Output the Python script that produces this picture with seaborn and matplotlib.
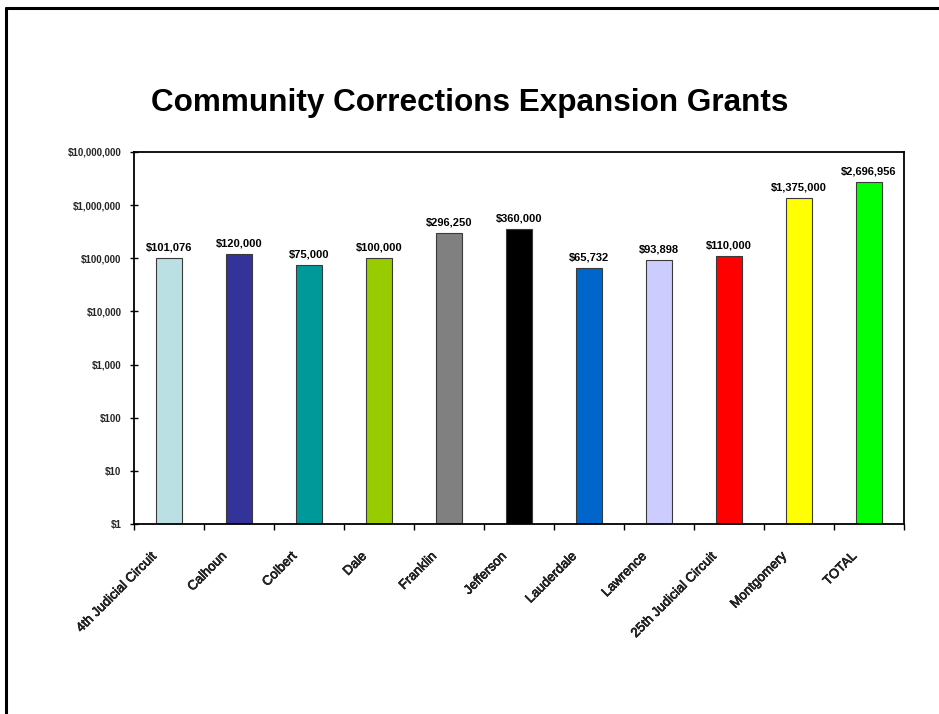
import matplotlib
matplotlib.use("Agg")
import matplotlib.pyplot as plt
import matplotlib.patheffects as pe
from matplotlib.lines import Line2D
from matplotlib.transforms import ScaledTranslation
import seaborn as sns

# Grant amounts by program
categories = ["4th Judicial Circuit", "Calhoun", "Colbert", "Dale", "Franklin",
              "Jefferson", "Lauderdale", "Lawrence", "25th Judicial Circuit",
              "Montgomery", "TOTAL"]
grants = [101076, 120000, 75000, 100000, 296250, 360000, 65732, 93898,
          110000, 1375000, 2696956]
bar_colors = ["#BBE0E3", "#333399", "#009999", "#99CC00", "#808080", "#000000",
              "#0066CC", "#CCCCFF", "#FF0000", "#FFFF00", "#00FF00"]
ytick_values = [1, 10, 100, 1000, 10000, 100000, 1000000, 10000000]
ytick_labels = ["$1", "$10", "$100", "$1,000", "$10,000", "$100,000",
                "$1,000,000", "$10,000,000"]
title = "Community Corrections Expansion Grants"

sns.set_theme(style="white")
plt.rcParams["font.family"] = ["Liberation Sans", "DejaVu Sans"]

fig = plt.figure(figsize=(9.39, 7.14), dpi=100)
ax = fig.add_axes([134 / 939, 1 - 524 / 714, (904 - 134) / 939, (524 - 152) / 714])
ax.set_yscale("log")

sns.barplot(x=categories, y=grants, hue=categories, palette=bar_colors,
            legend=False, width=0.37, edgecolor="#3a3a3a", linewidth=0.8,
            saturation=1, ax=ax)

ax.set_xlim(-0.5, len(categories) - 0.5)
ax.set_ylim(1, 1e7)

# value labels above each bar
for i, v in enumerate(grants):
    ax.annotate(f"${v:,}", xy=(i, v), xytext=(0, 4), textcoords="offset points",
                ha="center", va="bottom", fontsize=8, fontweight="bold",
                color="black")

# y axis: decade ticks with dollar labels
ax.set_yticks(ytick_values)
ax.set_yticklabels(ytick_labels)
ax.yaxis.set_minor_locator(matplotlib.ticker.NullLocator())
ax.tick_params(axis="y", which="major", direction="inout", length=6, width=1,
               pad=6, labelsize=7, color="black", left=True)
for lab in ax.get_yticklabels():
    lab.set_fontweight("bold")

# x axis: tick marks between categories, labels at category centres
ax.set_xticks(range(len(categories)))
ax.set_xticklabels(categories)
ax.set_xticks([i - 0.5 for i in range(len(categories) + 1)], minor=True)
ax.tick_params(axis="x", which="major", length=0, pad=22, labelsize=9.5)
ax.tick_params(axis="x", which="minor", direction="out", length=4, width=1,
               color="black", bottom=True)
offset = ScaledTranslation(-10 / 72, 0, fig.dpi_scale_trans)
for lab in ax.get_xticklabels():
    lab.set_rotation(45)
    lab.set_ha("right")
    lab.set_va("center")
    lab.set_rotation_mode("anchor")
    lab.set_transform(lab.get_transform() + offset)
    lab.set_path_effects([pe.withStroke(linewidth=0.45, foreground="black")])

ax.set_xlabel("")
ax.set_ylabel("")
for s in ax.spines.values():
    s.set_visible(True)
    s.set_color("black")
    s.set_linewidth(1.3)

fig.text(0.5, 1 - 103 / 714, title, ha="center", va="center",
         fontsize=22.7, fontweight="bold", color="black")

# frame lines along the top and left edges
fig.add_artist(Line2D([5.5 / 939, 1.0], [1 - 7.5 / 714, 1 - 7.5 / 714],
                      transform=fig.transFigure, color="black", linewidth=2.2))
fig.add_artist(Line2D([5.5 / 939, 5.5 / 939], [0.0, 1 - 7.5 / 714],
                      transform=fig.transFigure, color="black", linewidth=2.2))

fig.savefig("out.png", dpi=100, facecolor="white")
